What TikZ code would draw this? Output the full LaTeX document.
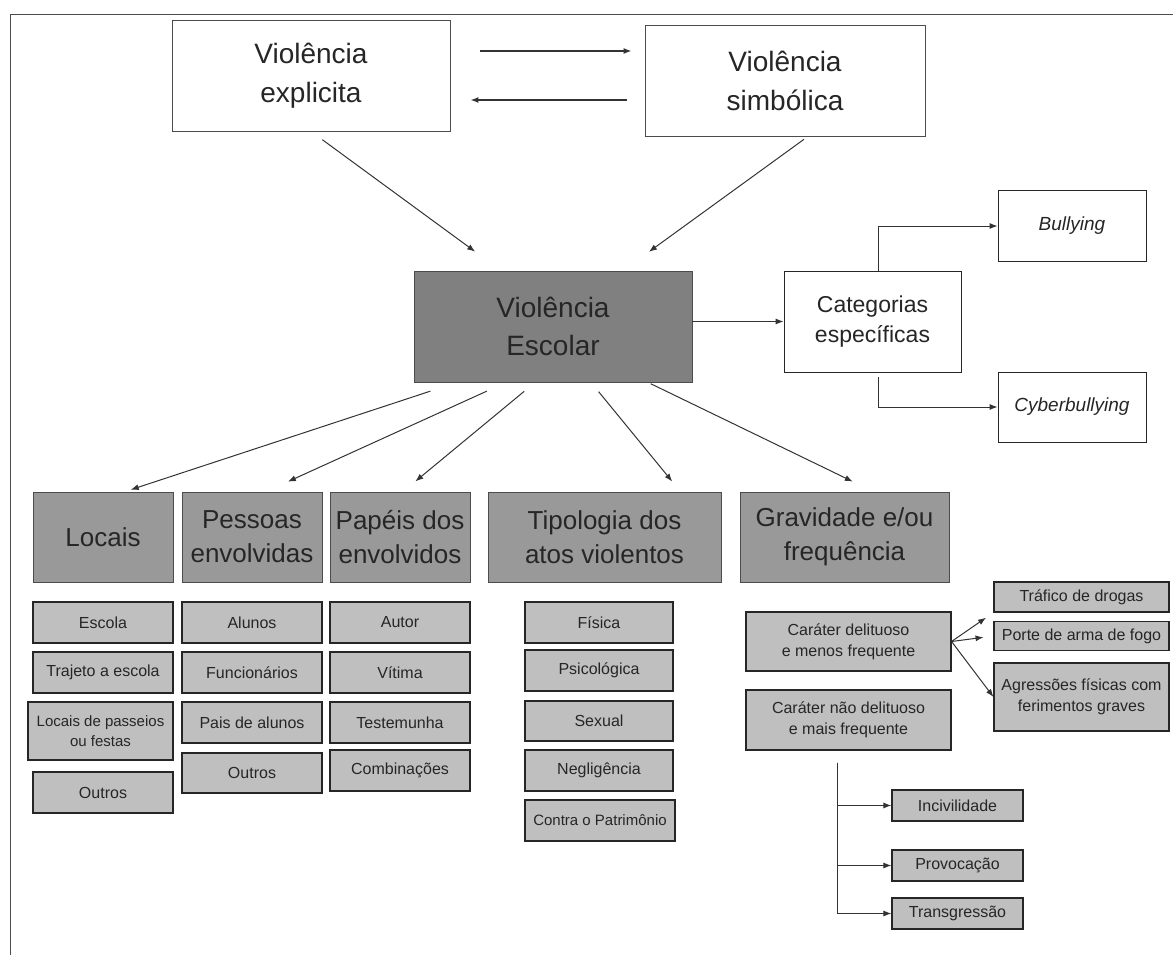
\documentclass[tikz,border=0pt]{standalone}
\usepackage{fontspec}
\setmainfont{Liberation Sans}
\usetikzlibrary{arrows.meta}

\begin{document}
\begin{tikzpicture}[x=1pt,y=-1pt,
    box/.style={draw=black!70,line width=0.8pt,align=center,inner sep=0pt,text=black!85},
    topbox/.style={box,fill=white,minimum width=278pt,minimum height=111pt,
      font=\fontsize{28}{39}\selectfont},
    hubbox/.style={box,fill=black!50,minimum width=278pt,minimum height=111pt,
      font=\fontsize{28}{38}\selectfont},
    catbox/.style={box,fill=black!40,minimum height=90pt,font=\fontsize{26}{34}\selectfont},
    itembox/.style={box,draw=black!85,line width=1.1pt,fill=black!25,minimum height=41pt,
      font=\fontsize{16}{21}\selectfont},
    sidebox/.style={box,draw=black!85,fill=white},
    link/.style={draw=black!80,line width=1pt,-{Latex[length=8pt,width=6pt]}}]
  \useasboundingbox (0,0) rectangle (1173,955);
  \draw[black!70,line width=0.8pt] (10,955) -- (10,14) -- (1173,14);

  % upper part
  \node[topbox] (explicita) at (311,75.5) {Violência\\explicita};
  \node[topbox,minimum width=280pt] (simbolica) at (785,80.5) {Violência\\simbólica};
  \node[hubbox] (escolar) at (553,326.5) {Violência\\Escolar};
  \node[sidebox,minimum width=177pt,minimum height=101pt,
        font=\fontsize{23}{30}\selectfont] (categorias) at (872.5,321.5) {Categorias\\específicas};
  \node[sidebox,minimum width=148pt,minimum height=71pt,
        font=\fontsize{19}{22}\selectfont\itshape] (bullying) at (1072,226) {Bullying};
  \node[sidebox,minimum width=148pt,minimum height=70pt,
        font=\fontsize{19}{22}\selectfont\itshape] (cyberbullying) at (1072,407) {Cyberbullying};

  \coordinate (upper) at (0,51);
  \coordinate (lower) at (0,100);
  \draw[link,line width=1.3pt,shorten <=30pt,shorten >=13pt] (explicita.east |- upper) -- (simbolica.west |- upper);
  \draw[link,line width=1.6pt,shorten <=18pt,shorten >=20pt] (simbolica.west |- lower) -- (explicita.east |- lower);
  \draw[link,shorten <=14pt,shorten >=32pt] (explicita.south) -- ([xshift=-52pt]escolar.north);
  \draw[link,shorten <=5pt,shorten >=32pt] ([xshift=23pt]simbolica.south) -- ([xshift=70pt]escolar.north);
  \draw[link] (escolar.east |- categorias) -- (categorias.west);
  \draw[link] ([xshift=5.5pt]categorias.north) |- (bullying.west);
  \draw[link] ([xshift=5.5pt,yshift=-5pt]categorias.south) |- (cyberbullying.west);

  % categories
  \node[catbox,minimum width=140pt] (locais) at (103,537) {Locais};
  \node[catbox,minimum width=140pt] (pessoas) at (252,537) {Pessoas\\envolvidas};
  \node[catbox,minimum width=140pt] (papeis) at (400,537) {Papéis dos\\envolvidos};
  \node[catbox,minimum width=233pt] (tipologia) at (604.5,537) {Tipologia dos\\atos violentos};
  \node[catbox,minimum width=209pt] (gravidade) at (844.5,537) {Gravidade e/ou\\frequência};

  \draw[link,shorten <=28pt,shorten >=6pt] ([xshift=-96pt]escolar.south) -- ([xshift=22pt]locais.north);
  \draw[link,shorten <=21pt,shorten >=24pt] ([xshift=-47pt]escolar.south) -- ([xshift=14pt]pessoas.north);
  \draw[link,shorten <=14pt,shorten >=16pt] ([xshift=-18pt]escolar.south) -- ([xshift=3pt]papeis.north);
  \draw[link,shorten <=12pt,shorten >=13pt] ([xshift=38pt]escolar.south) -- ([xshift=76pt]tipologia.north);
  \draw[link,shorten <=3pt,shorten >=23pt] ([xshift=95pt]escolar.south) -- ([xshift=29pt]gravidade.north);

  % locais
  \node[itembox,minimum width=140pt] (escola) at (103,622.5) {Escola};
  \node[itembox,minimum width=140pt] (trajeto) at (103,672.5) {Trajeto a escola};
  \node[itembox,minimum width=145pt,minimum height=58pt,font=\fontsize{15}{20}\selectfont]
    (passeios) at (100.5,731) {Locais de passeios\\ou festas};
  \node[itembox,minimum width=140pt] (outroslocais) at (103,792.5) {Outros};
  % pessoas
  \node[itembox,minimum width=140pt] (alunos) at (252,622.5) {Alunos};
  \node[itembox,minimum width=140pt] (funcionarios) at (252,672.5) {Funcionários};
  \node[itembox,minimum width=140pt] (pais) at (252,722.5) {Pais de alunos};
  \node[itembox,minimum width=140pt,minimum height=40pt] (outrospessoas) at (252,773) {Outros};
  % papeis
  \node[itembox,minimum width=140pt] (autor) at (400,622.5) {Autor};
  \node[itembox,minimum width=140pt] (vitima) at (400,672.5) {Vítima};
  \node[itembox,minimum width=140pt] (testemunha) at (400,722.5) {Testemunha};
  \node[itembox,minimum width=140pt] (combinacoes) at (400,770.5) {Combinações};
  % tipologia
  \node[itembox,minimum width=148pt] (fisica) at (599,622.5) {Física};
  \node[itembox,minimum width=148pt] (psicologica) at (599,670.5) {Psicológica};
  \node[itembox,minimum width=148pt,minimum height=40pt] (sexual) at (599,721) {Sexual};
  \node[itembox,minimum width=148pt] (negligencia) at (599,770.5) {Negligência};
  \node[itembox,minimum width=150pt,font=\fontsize{15}{20}\selectfont]
    (patrimonio) at (600,820.5) {Contra o Patrimônio};
  % gravidade
  \node[itembox,minimum width=205pt,minimum height=59pt] (delituoso) at (848.5,641.5)
    {Caráter delituoso\\e menos frequente};
  \node[itembox,minimum width=205pt,minimum height=60pt] (naodelituoso) at (848.5,720)
    {Caráter não delituoso\\e mais frequente};
  \node[itembox,minimum width=175pt,minimum height=30pt] (trafico) at (1081.5,597) {Tráfico de drogas};
  \node[itembox,minimum width=175pt,minimum height=29pt] (porte) at (1081.5,636) {Porte de arma de fogo};
  \node[itembox,minimum width=175pt,minimum height=68pt] (agressoes) at (1081.5,697)
    {Agressões físicas com\\ferimentos graves};
  \node[itembox,minimum width=131pt,minimum height=31pt] (incivilidade) at (957.5,805.5) {Incivilidade};
  \node[itembox,minimum width=131pt,minimum height=31pt] (provocacao) at (957.5,865.5) {Provocação};
  \node[itembox,minimum width=131pt,minimum height=31pt] (transgressao) at (957.5,913.5) {Transgressão};

  \draw[link,shorten >=9pt] (delituoso.east) -- (trafico.south west);
  \draw[link,shorten >=10pt] (delituoso.east) -- (porte.west);
  \draw[link] (delituoso.east) -- (agressoes.west);
  \coordinate (trunk) at ([xshift=-11.5pt,yshift=-12pt]naodelituoso.south);
  \draw[link] (trunk) |- (incivilidade.west);
  \draw[link] (trunk) |- (provocacao.west);
  \draw[link] (trunk) |- (transgressao.west);
\end{tikzpicture}
\end{document}
